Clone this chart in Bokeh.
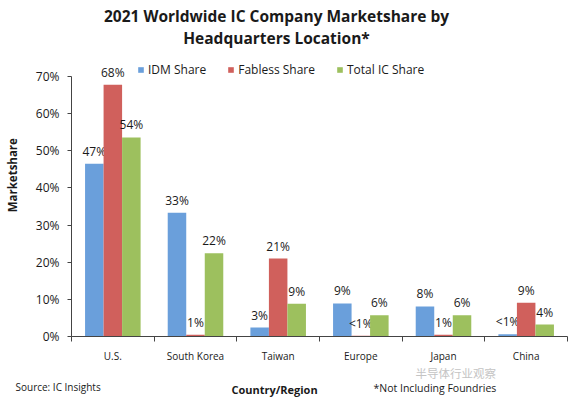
import numpy as np
from bokeh.plotting import figure
from bokeh.layouts import column, row
from bokeh.models import (ColumnDataSource, FixedTicker, NumeralTickFormatter,
                          CustomJSTickFormatter, Legend, LegendItem, Range1d)
from bokeh.core.properties import value
from bokeh.embed import file_html
from bokeh.resources import INLINE

categories = ["U.S.", "South Korea", "Taiwan", "Europe", "Japan", "China"]
series_names = ["IDM Share", "Fabless Share", "Total IC Share"]
idm = [0.465, 0.333, 0.024, 0.089, 0.081, 0.006]
fabless = [0.678, 0.005, 0.210, 0.002, 0.005, 0.091]
total = [0.536, 0.224, 0.088, 0.057, 0.057, 0.032]
idm_labels = ["47%", "33%", "3%", "9%", "8%", "<1%"]
fabless_labels = ["68%", "1%", "21%", "<1%", "1%", "9%"]
total_labels = ["54%", "22%", "9%", "6%", "6%", "4%"]
y_ticks = [0.0, 0.1, 0.2, 0.3, 0.4, 0.5, 0.6, 0.7]

colors = ["#6a9fdb", "#d0605c", "#9dc05e"]
FONT = "Open Sans"
TXT = "#1a1a1a"

W = 574
HEAD_H, MAIN_H, FOOT_H = 56, 309, 34
LEFT_W = 24
FRAME_H = 280


def blank(width, height, x0, x1, y0, y1):
    f = figure(width=width, height=height, output_backend="svg", toolbar_location=None,
               x_range=Range1d(x0, x1), y_range=Range1d(y0, y1),
               x_axis_type=None, y_axis_type=None, min_border=0)
    f.outline_line_color = None
    f.grid.grid_line_color = None
    f.background_fill_color = "white"
    f.border_fill_color = "white"
    return f


def put(f, text, x, y, size, bold=False, align="center", angle=0.0, color=TXT, font=FONT):
    f.text(x=[x], y=[y], text=[text], text_font=value(font), text_font_size=size,
           text_font_style="bold" if bold else "normal", text_align=align,
           text_baseline="middle", angle=angle, text_color=color)


# ---------- header (title) ----------
head = blank(W, HEAD_H, 0, W, HEAD_H, 0)
put(head, "2021 Worldwide IC Company Marketshare by", 276, 15, "15.5px", bold=True)
put(head, "Headquarters Location*", 276, 37, "15.5px", bold=True)

# ---------- left (y axis title) ----------
left = blank(LEFT_W, MAIN_H, 0, LEFT_W, HEAD_H + MAIN_H, HEAD_H)
put(left, "Marketshare", 12, 187, "11.5px", bold=True, angle=np.pi / 2)

# ---------- main chart ----------
p = figure(width=W - LEFT_W, height=MAIN_H, output_backend="svg", toolbar_location=None,
           x_range=Range1d(0, len(categories)), y_range=Range1d(0, 0.7 * FRAME_H / 260),
           min_border_left=71 - LEFT_W, min_border_right=7, min_border_top=0,
           min_border_bottom=MAIN_H - FRAME_H)
p.outline_line_color = None
p.grid.grid_line_color = None
p.background_fill_color = "white"
p.border_fill_color = "white"

centers = np.arange(len(categories)) + 0.5
bw = 0.224
series = [idm, fabless, total]
labels = [idm_labels, fabless_labels, total_labels]
renderers = []
for k, (vals, labs) in enumerate(zip(series, labels)):
    src = ColumnDataSource(dict(x=centers + (k - 1) * bw, top=vals, lab=labs))
    r = p.vbar(x="x", top="top", width=bw, bottom=0, source=src,
               fill_color=colors[k], line_color=None)
    renderers.append(r)
    p.text(x="x", y="top", text="lab", source=src, text_align="center",
           text_baseline="bottom", y_offset=-4, text_font=value(FONT),
           text_font_size="12px", text_color=TXT)

ya = p.yaxis[0]
ya.ticker = FixedTicker(ticks=y_ticks)
ya.formatter = NumeralTickFormatter(format="0%")
ya.bounds = (0, 0.7)
ya.axis_line_color = "#444444"
ya.major_tick_line_color = "#444444"
ya.major_tick_out = 4
ya.major_tick_in = 0
ya.minor_tick_line_color = None
ya.major_label_text_font = FONT
ya.major_label_text_font_size = "12px"
ya.major_label_text_color = TXT
ya.major_label_standoff = 8

xa = p.xaxis[0]
xa.ticker = FixedTicker(ticks=list(centers), minor_ticks=list(range(len(categories) + 1)))
xa.formatter = CustomJSTickFormatter(args=dict(labels=categories),
                                     code="return labels[Math.floor(tick)]")
xa.axis_line_color = "#444444"
xa.major_tick_line_color = None
xa.major_tick_out = 0
xa.major_tick_in = 0
xa.minor_tick_line_color = "#444444"
xa.minor_tick_out = 5
xa.minor_tick_in = 0
xa.major_label_text_font = FONT
xa.major_label_text_font_size = "10px"
xa.major_label_text_color = TXT
xa.major_label_standoff = 7

legend = Legend(items=[LegendItem(label=series_names[i], renderers=[renderers[i]]) for i in range(3)],
                orientation="horizontal", location=(66, FRAME_H - 22),
                glyph_width=7, glyph_height=7, label_height=14, label_standoff=4,
                spacing=21, padding=0, margin=0,
                label_text_font=FONT, label_text_font_size="12px", label_text_color=TXT,
                border_line_color=None, background_fill_alpha=0)
p.add_layout(legend, "center")

# ---------- footer ----------
y_top = HEAD_H + MAIN_H
foot = blank(W, FOOT_H, 0, W, y_top + FOOT_H, y_top)
put(foot, "半导体行业观察", 415, 372, "11.5px", align="left", color="#c4c4c4", font="Noto Sans CJK SC")
put(foot, "Source: IC Insights", 15, 386, "10px", align="left")
put(foot, "Country/Region", 274, 389, "11px", bold=True)
put(foot, "*Not Including Foundries", 373, 387, "10.5px", align="left")

layout = column(head, row(left, p), foot)
open("out.html", "w").write(file_html(layout, INLINE))
